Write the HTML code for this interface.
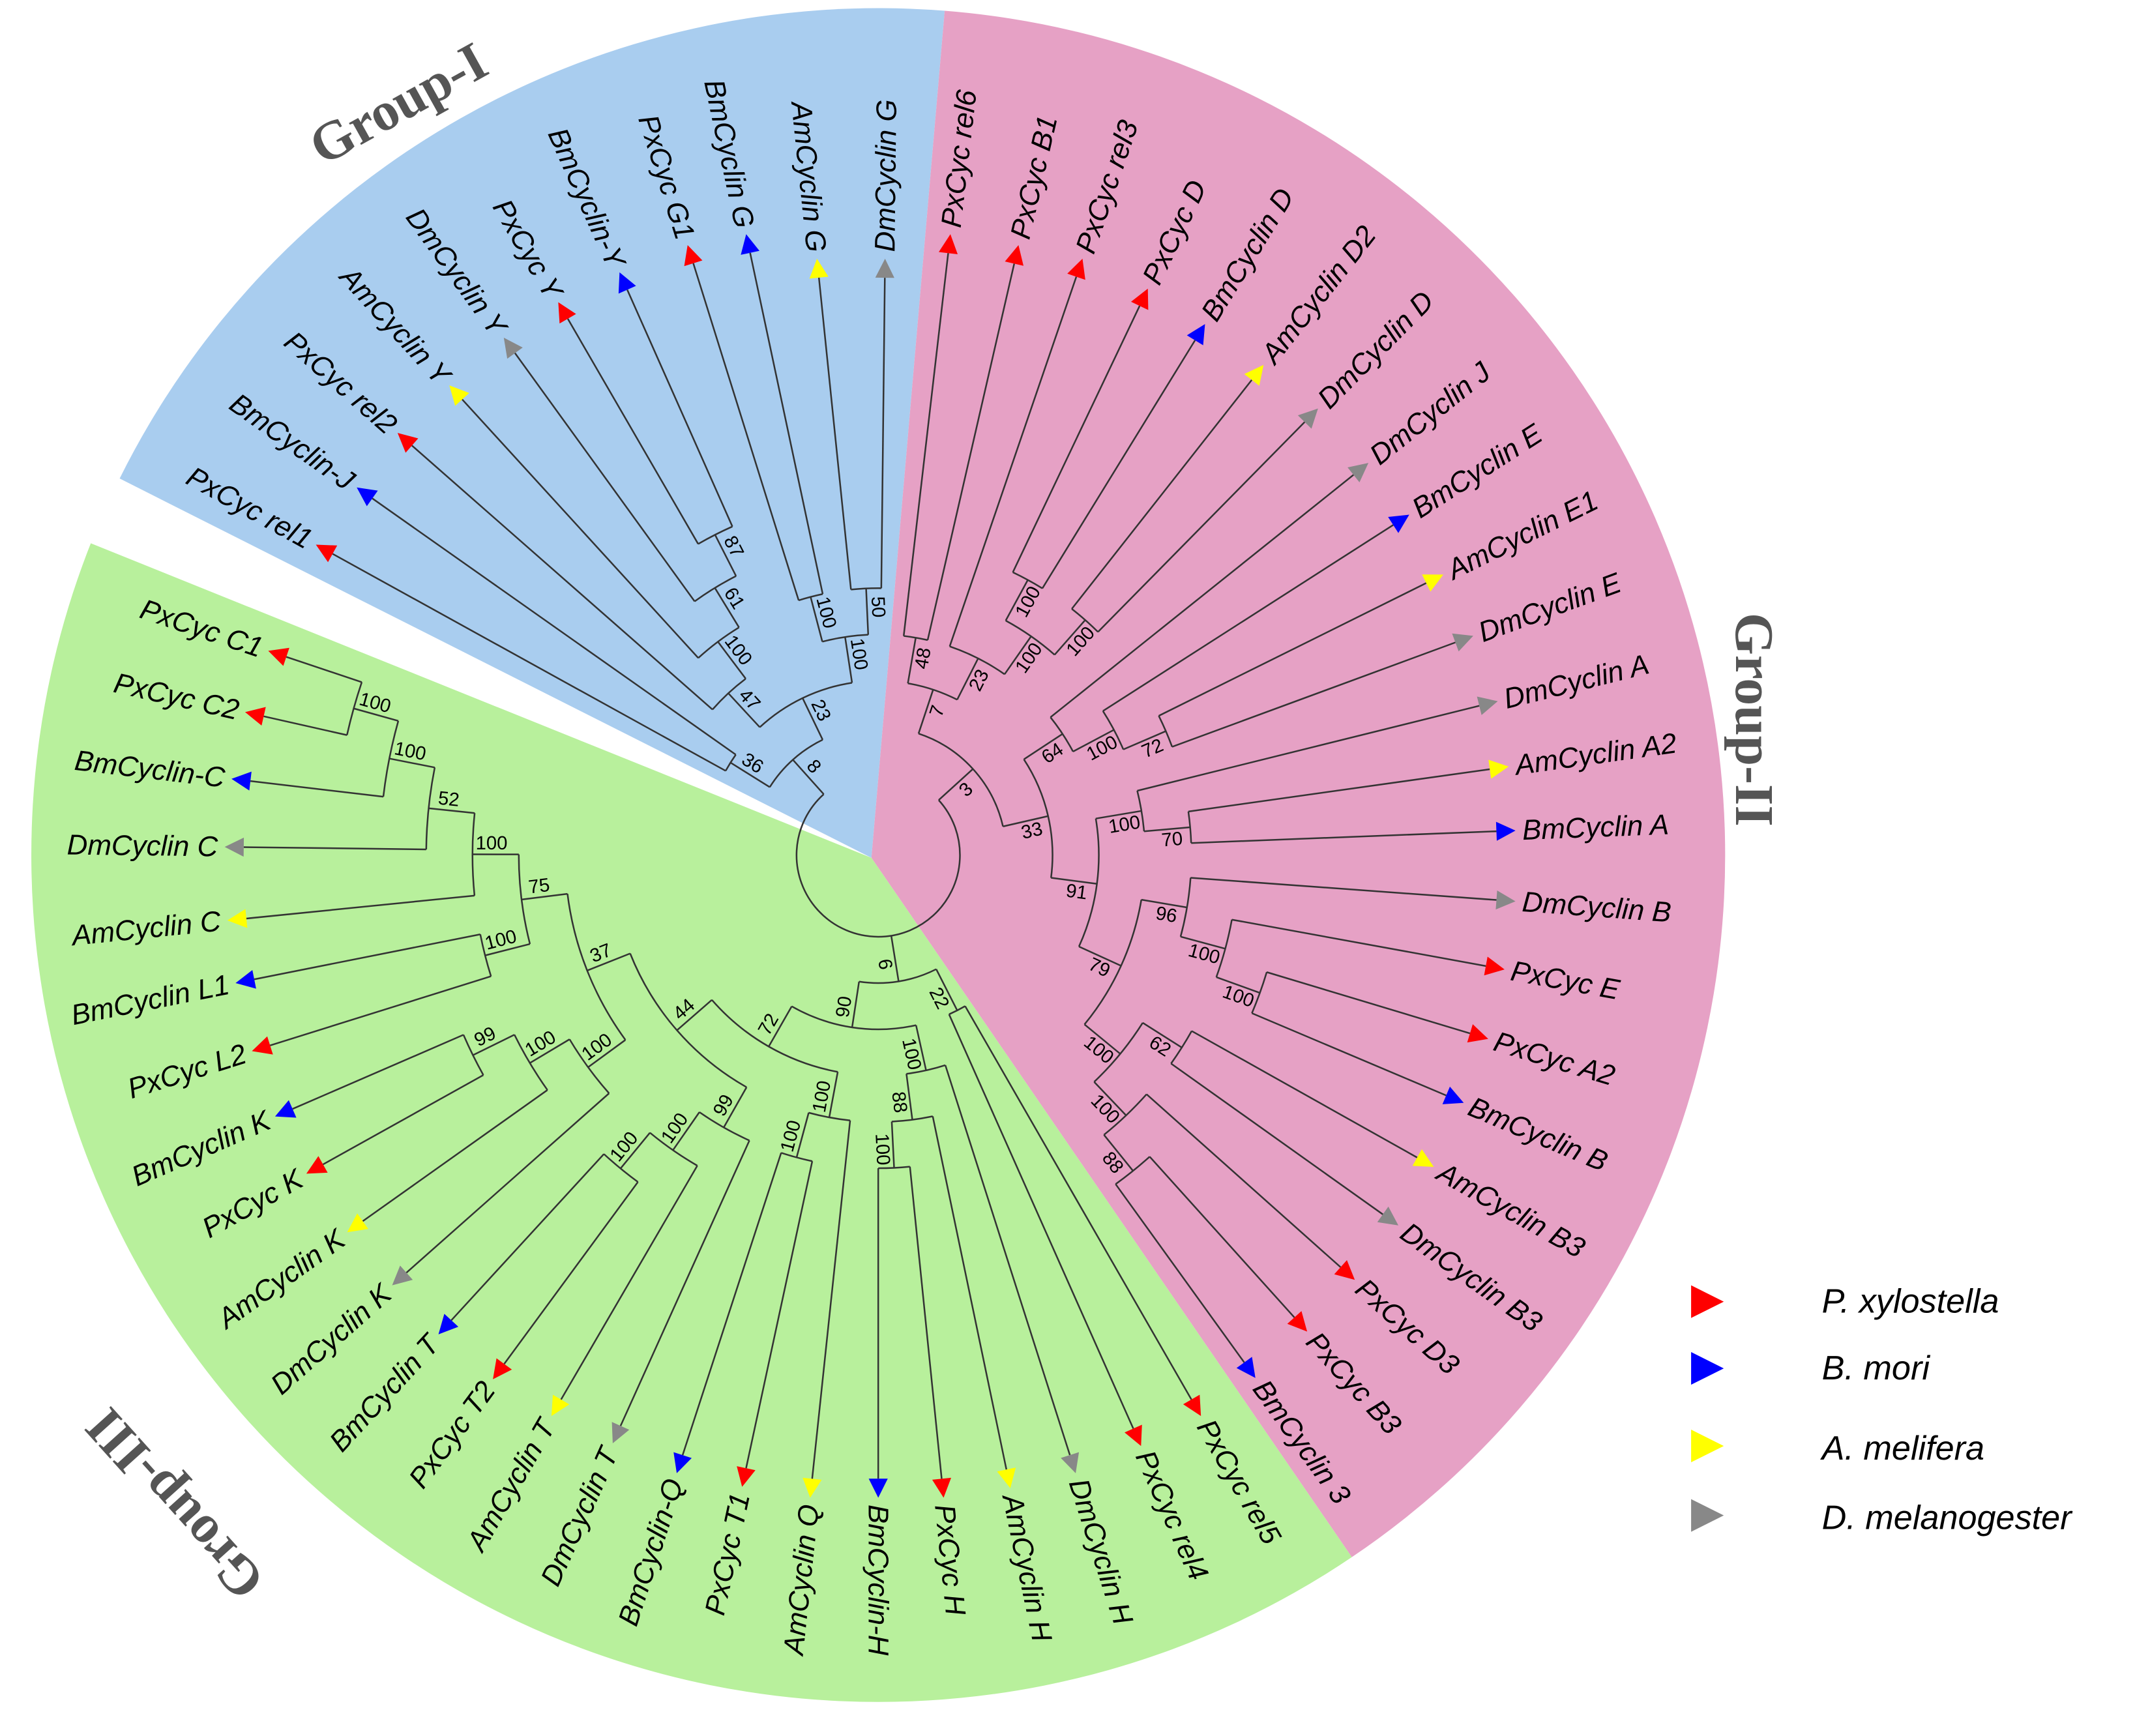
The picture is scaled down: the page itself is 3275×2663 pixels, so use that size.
<!DOCTYPE html>
<html><head><meta charset="utf-8"><style>
html,body{margin:0;padding:0;background:#fff;}
svg{display:block;}
</style></head><body>
<svg id="s" xmlns="http://www.w3.org/2000/svg" width="3275" height="2663" viewBox="0 0 1568 1275">
<rect width="1568" height="1275" fill="#fff"/>
<g id="bg"></g>
<g id="tree" stroke="#333" stroke-width="1.2" fill="none"></g>
<g id="lab" font-family="Liberation Sans, sans-serif" font-style="italic" font-size="21" fill="#000"></g>
<g id="boot" font-family="Liberation Sans, sans-serif" font-size="14" fill="#000"></g>
<text x="0" y="0" transform="translate(237,122) rotate(-29)" font-family="Liberation Serif, serif" font-weight="bold" font-size="40" fill="#555">Group-I</text>
<text x="0" y="0" transform="translate(1275,450) rotate(90)" font-family="Liberation Serif, serif" font-weight="bold" font-size="40" fill="#555">Group-II</text>
<text x="0" y="0" transform="translate(196,1160) rotate(228)" font-family="Liberation Serif, serif" font-weight="bold" font-size="40" fill="#555">Group-III</text>
<g font-family="Liberation Sans, sans-serif" font-style="italic" font-size="25" fill="#000">
<polygon points="1242,944 1242,968 1266,956" fill="#f00"/><text x="1338" y="964">P. xylostella</text>
<polygon points="1242,993 1242,1017 1266,1005" fill="#00f"/><text x="1338" y="1013">B. mori</text>
<polygon points="1242,1050 1242,1074 1266,1062" fill="#ff0"/><text x="1338" y="1072">A. melifera</text>
<polygon points="1242,1101 1242,1125 1266,1113" fill="#888"/><text x="1338" y="1123">D. melanogester</text>
</g>
</svg>
<script>
const NS="http://www.w3.org/2000/svg";
const CX=645,CY=628;
function el(p,t,a,txt){const e=document.createElementNS(NS,t);for(const k in a)e.setAttribute(k,a[k]);if(txt!=null)e.textContent=txt;p.appendChild(e);return e;}
function pol(r,a){const t=a*Math.PI/180;return [CX+r*Math.cos(t),CY+r*Math.sin(t)];}
const bg=document.getElementById('bg');
function wedge(a1,a2,col){const R=622;const p1=pol(R,a1),p2=pol(R,a2);const large=(a2-a1)>180?1:0;
el(bg,'path',{d:`M${CX-5},${CY+2}L${p1[0]},${p1[1]}A${R},${R} 0 ${large} 1 ${p2[0]},${p2[1]}Z`,fill:col});}
wedge(206.4,274.5,'#a9cdef');
wedge(274.5,416,'#e6a1c5');
wedge(56,201.6,'#b8f09c');
const R='#f00',B='#00f',Y='#ff0',G='#888';
const L={
'DmCyclin G':[650,190,G],'AmCyclin G':[600,190,Y],'BmCyclin G':[548,172,B],'PxCyc G1':[505,180,R],
'BmCyclin-Y':[455,200,B],'PxCyc Y':[410,222,R],'DmCyclin Y':[370,248,G],'AmCyclin Y':[330,283,Y],
'PxCyc rel2':[292,318,R],'BmCyclin-J':[262,358,B],'PxCyc rel1':[232,400,R],
'PxCyc rel6':[698,172,R],'PxCyc B1':[748,180,R],'PxCyc rel3':[795,190,R],'PxCyc D':[843,212,R],
'BmCyclin D':[885,238,B],'AmCyclin D2':[928,268,Y],'DmCyclin D':[968,300,G],'DmCyclin J':[1005,340,G],
'BmCyclin E':[1035,378,B],'AmCyclin E1':[1060,422,Y],'DmCyclin E':[1082,467,G],'DmCyclin A':[1100,515,G],
'AmCyclin A2':[1108,563,Y],'BmCyclin A':[1113,610,B],'DmCyclin B':[1113,662,G],'PxCyc E':[1105,712,R],
'PxCyc A2':[1093,763,R],'BmCyclin B':[1075,810,B],'AmCyclin B3':[1053,857,Y],'DmCyclin B3':[1027,900,G],
'PxCyc D3':[995,940,R],'PxCyc B3':[960,978,R],'BmCyclin 3':[922,1012,B],
'PxCyc C1':[197,478,R],'PxCyc C2':[180,523,R],'BmCyclin-C':[170,572,B],'DmCyclin C':[165,622,G],
'AmCyclin C':[167,676,Y],'BmCyclin L1':[173,722,B],'PxCyc L2':[185,772,R],'BmCyclin K':[202,820,B],
'PxCyc K':[225,862,R],'AmCyclin K':[255,905,Y],'DmCyclin K':[288,944,G],'BmCyclin T':[322,980,B],
'PxCyc T2':[362,1013,R],'AmCyclin T':[405,1040,Y],'DmCyclin T':[450,1060,G],'BmCyclin-Q':[497,1082,B],
'PxCyc T1':[545,1092,R],'AmCyclin Q':[595,1100,Y],'BmCyclin-H':[645,1100,B],'PxCyc H':[693,1100,R],
'AmCyclin H':[742,1093,Y],'DmCyclin H':[790,1082,G],'PxCyc rel4':[838,1062,R],'PxCyc rel5':[882,1040,R]};
function N(b,...c){return {b:b,c:c};}
const G1=N('8',N('36','PxCyc rel1','BmCyclin-J'),N('23',N('47','PxCyc rel2',N('100','AmCyclin Y',N('61','DmCyclin Y',N('87','PxCyc Y','BmCyclin-Y')))),N('100',N('100','PxCyc G1','BmCyclin G'),N('50','AmCyclin G','DmCyclin G'))));
const G2=N('3',N('7',N('48','PxCyc rel6','PxCyc B1'),N('23','PxCyc rel3',N('100',N('100','PxCyc D','BmCyclin D'),N('100','AmCyclin D2','DmCyclin D')))),
 N('33',N('64','DmCyclin J',N('100','BmCyclin E',N('72','AmCyclin E1','DmCyclin E'))),
  N('91',N('100','DmCyclin A',N('70','AmCyclin A2','BmCyclin A')),
   N('79',N('96','DmCyclin B',N('100','PxCyc E',N('100','PxCyc A2','BmCyclin B'))),
    N('100',N('62','AmCyclin B3','DmCyclin B3'),N('100','PxCyc D3',N('88','PxCyc B3','BmCyclin 3')))))));
const Cc=N('75',N('100',N('52',N('100',N('100','PxCyc C1','PxCyc C2'),'BmCyclin-C'),'DmCyclin C'),'AmCyclin C'),N('100','BmCyclin L1','PxCyc L2'));
const Kc=N('100',N('100',N('99','BmCyclin K','PxCyc K'),'AmCyclin K'),'DmCyclin K');
const Tc=N('99',N('100',N('100','BmCyclin T','PxCyc T2'),'AmCyclin T'),'DmCyclin T');
const G3=N('6',N('90',N('72',N('44',N('37',Cc,Kc),Tc),N('100',N('100','BmCyclin-Q','PxCyc T1'),'AmCyclin Q')),N('100',N('88',N('100','BmCyclin-H','PxCyc H'),'AmCyclin H'),'DmCyclin H')),N('22','PxCyc rel4','PxCyc rel5'));
const root=N('',G2,G3,G1);
function ang(x,y){let a=Math.atan2(y-CY,x-CX)*180/Math.PI;if(a<-87)a+=360;return a;}
function lay(n,d){
 if(typeof n==='string'){const v=L[n];const a=ang(v[0],v[1]);const r=Math.hypot(v[0]-CX,v[1]-CY)-14;return {name:n,a:a,r:r,col:v[2],leaf:true,amin:a,amax:a};}
 const ch=n.c.map(c=>lay(c,d+1));
 const as=ch.map(c=>c.a);const amin=Math.min(...as),amax=Math.max(...as);
 const minr=Math.min(...ch.map(c=>c.r));
 const r=Math.min(60+d*34,minr-25);
 return {b:n.b,ch:ch,a:(amin+amax)/2,r:r,amin:amin,amax:amax};
}
const T=lay(root,0);
const tg=document.getElementById('tree'),lg=document.getElementById('lab'),bgt=document.getElementById('boot');
function draw(n){
 if(n.leaf){
  const t=pol(n.r+14,n.a);
  const th=n.a*Math.PI/180,px=-Math.sin(th)*7,py=Math.cos(th)*7,b=pol(n.r,n.a);
  el(lg,'polygon',{points:`${t[0]},${t[1]} ${b[0]+px},${b[1]+py} ${b[0]-px},${b[1]-py}`,fill:n.col});
  const p=pol(n.r+19,n.a);
  const right=Math.cos(th)>=-0.02;
  el(lg,'text',{x:p[0],y:p[1],'text-anchor':right?'start':'end','dominant-baseline':'central',transform:`rotate(${right?n.a:n.a+180} ${p[0]} ${p[1]})`},n.name);
  return;
 }
 const a1=n.amin,a2=n.amax;const p1=pol(n.r,a1),p2=pol(n.r,a2);
 el(tg,'path',{d:`M${p1[0]},${p1[1]}A${n.r},${n.r} 0 ${(a2-a1)>180?1:0} 1 ${p2[0]},${p2[1]}`});
 for(const c of n.ch){
  const q1=pol(n.r,c.a),q2=pol(c.r,c.a);
  el(tg,'line',{x1:q1[0],y1:q1[1],x2:q2[0],y2:q2[1]});
  if(!c.leaf&&c.b){
   const rr=Math.max(n.r+10,c.r-14);const th=c.a*Math.PI/180;const q=pol(rr,c.a);
   const qx=q[0]-Math.sin(th)*8,qy=q[1]+Math.cos(th)*8;
   const right=Math.cos(th)>=0;
   el(bgt,'text',{x:qx,y:qy,'text-anchor':'middle','dominant-baseline':'central',transform:`rotate(${right?c.a:c.a+180} ${qx} ${qy})`},c.b);
  }
  draw(c);
 }
}
draw(T);
</script>
</body></html>
